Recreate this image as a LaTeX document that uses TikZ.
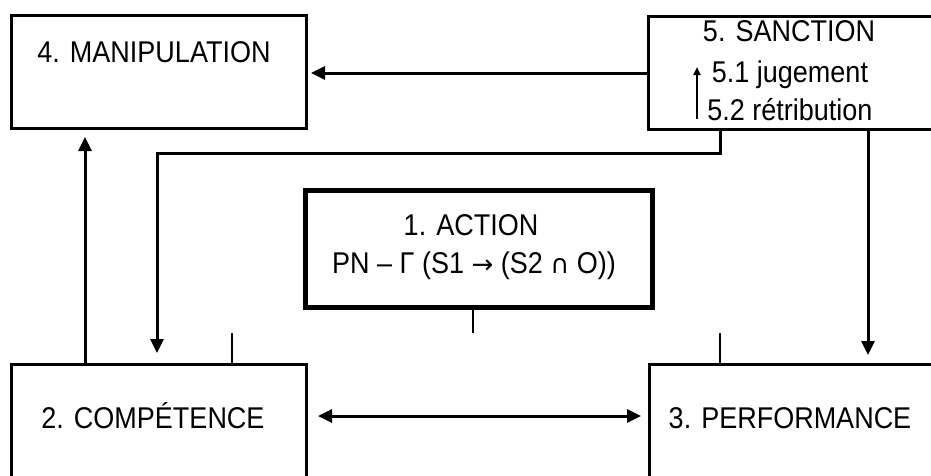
\documentclass[tikz,border=0pt]{standalone}
\usepackage{fontspec}
\setmainfont{Liberation Sans}[FakeStretch=0.9]
\newfontfamily\symfont{DejaVu Sans}
\usetikzlibrary{arrows.meta}
\begin{document}
\begin{tikzpicture}[x=1pt,y=1pt,
  box/.style={draw, line width=3pt, rectangle, inner sep=0pt, anchor=north west},
  actbox/.style={box, line width=5pt},
  lbl/.style={font=\fontsize{30}{33}\selectfont, inner sep=0pt, anchor=base},
  sym/.style={font=\symfont\fontsize{30}{33}\selectfont},
  conn/.style={line width=3pt},
  arr/.style={conn, -{Triangle[length=14pt,width=13pt]}},
  darr/.style={conn, {Triangle[length=14pt,width=13pt]}-{Triangle[length=14pt,width=13pt]}},
  smallarr/.style={line width=2pt, -{Triangle[length=8pt,width=7pt]}},
  stub/.style={line width=2.5pt}]
\useasboundingbox (0,0) rectangle (931,-475);
\clip (0,0) rectangle (931,-475);
\fill[white] (0,0) rectangle (931,-475);

% boxes
\node[box, minimum width=295pt, minimum height=113pt] (man) at (10,-14) {};
\node[box, minimum width=330pt, minimum height=113pt] (san) at (647,-15) {};
\node[actbox, minimum width=347pt, minimum height=117pt] (act) at (303,-188) {};
\node[box, minimum width=295pt, minimum height=140pt] (comp) at (10,-363) {};
\node[box, minimum width=330pt, minimum height=140pt] (perf) at (648,-363) {};

% texts
\node[lbl] (tman) at (154,-62) {4. MANIPULATION};
\node[lbl] (tsan1) at (789,-41) {5. SANCTION};
\node[lbl] (tsan2) at (790,-82) {5.1 jugement};
\node[lbl] (tsan3) at (790,-120) {5.2 rétribution};
\node[lbl] (tact1) at (471,-235) {1. ACTION};
\node[lbl] (tact2) at (474,-273) {PN – Γ (S1 {\symfont\fontsize{26}{26}\selectfont →} (S2 {\symfont\fontsize{26}{26}\selectfont ∩} O))};
\node[lbl] (tcomp) at (153,-428) {2. COMPÉTENCE};
\node[lbl] (tperf) at (790,-428) {3. PERFORMANCE};

% small arrow inside SANCTION
\coordinate (sa1) at (697,-119);
\coordinate (sa2) at (697,-67);
\draw[smallarr] (sa1) -- (sa2);

% SANCTION -> MANIPULATION
\draw[arr, shorten >=3pt] (san.west) -- (san.west -| man.east);

% SANCTION -> COMPETENCE
\coordinate (k2) at (720,-153);
\coordinate (k1) at (157,-153);
\draw[arr, shorten >=10pt] (k2 |- san.south) -- (k2) -- (k1) -- (k1 |- comp.north);

% SANCTION -> PERFORMANCE
\coordinate (k3) at (868,-200);
\draw[arr, shorten >=8pt] (k3 |- san.south) -- (k3 |- perf.north);

% COMPETENCE -> MANIPULATION
\coordinate (k4) at (85,-250);
\draw[arr, shorten >=7pt] (k4 |- comp.north) -- (k4 |- man.south);

% COMPETENCE <-> PERFORMANCE
\draw[darr, shorten <=10pt, shorten >=7pt] ([yshift=-53pt]comp.north east) -- ([yshift=-53pt]perf.north west);

% stubs
\coordinate (s1) at (232,-333);
\coordinate (s2) at (720,-333);
\coordinate (s3) at (473,-333);
\draw[stub] (s1) -- (s1 |- comp.north);
\draw[stub] (s2) -- (s2 |- perf.north);
\draw[stub] (s3) -- (s3 |- act.south);
\end{tikzpicture}
\end{document}
